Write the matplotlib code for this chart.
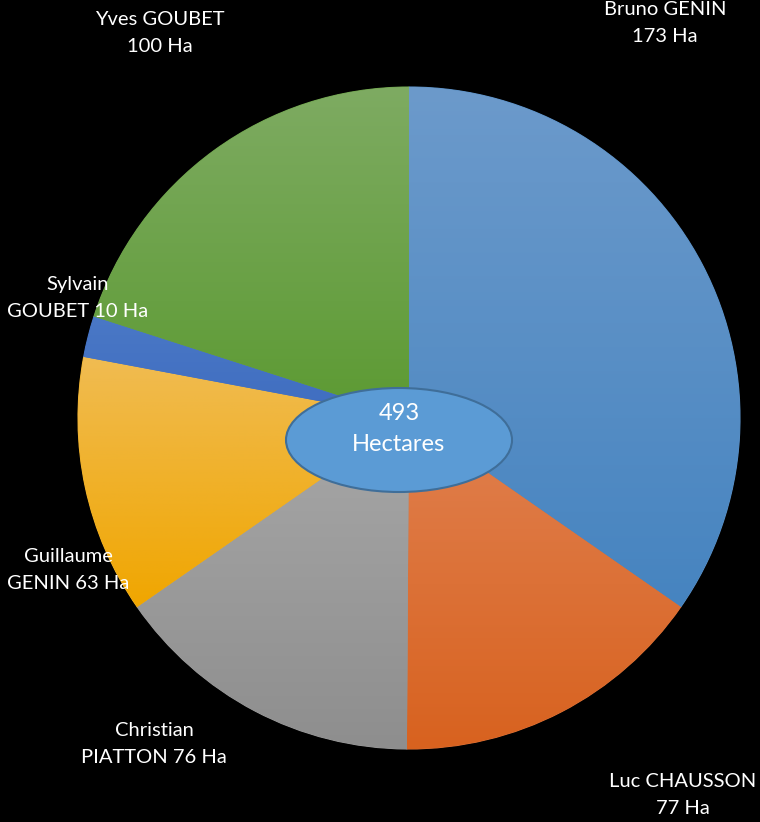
import numpy as np
import matplotlib
matplotlib.use("Agg")
import matplotlib.pyplot as plt
from matplotlib.colors import LinearSegmentedColormap
from matplotlib.patches import Ellipse

# data
owners = ["Bruno GENIN", "Luc CHAUSSON", "Christian PIATTON", "Guillaume GENIN", "Sylvain GOUBET", "Yves GOUBET"]
hectares = [173, 77, 76, 63, 10, 100]
labels = ["Bruno GENIN\n173 Ha", "Luc CHAUSSON\n77 Ha", "Christian\nPIATTON 76 Ha",
          "Guillaume\nGENIN 63 Ha", "Sylvain\nGOUBET 10 Ha", "Yves GOUBET\n100 Ha"]
total_label = "493\nHectares"

# gradient colours (top, bottom) per wedge
top_colors = ["#6c9acb", "#e0804f", "#a7a7a7", "#f0bc52", "#4a78c6", "#7eab62"]
bottom_colors = ["#4684c0", "#d8621f", "#8e8e8e", "#f0a600", "#3f6dc0", "#5c9a32"]
mid_colors = ["#598fc5", "#dc7137", "#9a9a9a", "#f0b129", "#4472c4", "#6da24a"]

plt.rcParams["font.family"] = ["Lato", "DejaVu Sans"]

fig = plt.figure(figsize=(7.6, 8.22), dpi=100, facecolor="black")
ax = fig.add_axes([0, 0, 1, 1])
ax.set_facecolor("black")

cx, cy, r = 409, 404, 331
wedges, _ = ax.pie(hectares, startangle=90, counterclock=False, center=(cx, cy),
                   radius=r, frame=True, colors=mid_colors,
                   wedgeprops=dict(linewidth=0.8))

for w, c1, c2, cm in zip(wedges, top_colors, bottom_colors, mid_colors):
    w.set_edgecolor(cm)
    w.set_zorder(0.5)
    bb = w.get_path().get_extents()
    cmap = LinearSegmentedColormap.from_list("g", [c2, c1])
    grad = np.linspace(0, 1, 256).reshape(-1, 1)
    im = ax.imshow(grad, cmap=cmap, extent=(bb.x0, bb.x1, bb.y0, bb.y1),
                   origin="lower", aspect="auto", zorder=1)
    im.set_clip_path(w.get_path(), transform=ax.transData)

ax.set_xlim(0, 760)
ax.set_ylim(0, 822)
ax.set_aspect("auto")
ax.axis("off")

# centre ellipse
ax.add_patch(Ellipse((399, 822 - 440), 226, 104, facecolor="#5b9bd5",
                     edgecolor="#3f6e99", linewidth=1.5, zorder=3))
ax.text(399, 822 - 429, total_label, color="white", fontsize=17, ha="center",
        va="center", linespacing=1.55, zorder=4)

# outside labels (pixel positions of the reference)
label_pos = [(665, 23), (683, 795), (154, 744), (68, 570), (78, 298), (160, 33)]
for lab, (x, y) in zip(labels, label_pos):
    ax.text(x, 822 - y, lab, color="white", fontsize=14.5, ha="center",
            va="center", linespacing=1.7, zorder=5)

fig.savefig("out.png", dpi=100, facecolor="black")
